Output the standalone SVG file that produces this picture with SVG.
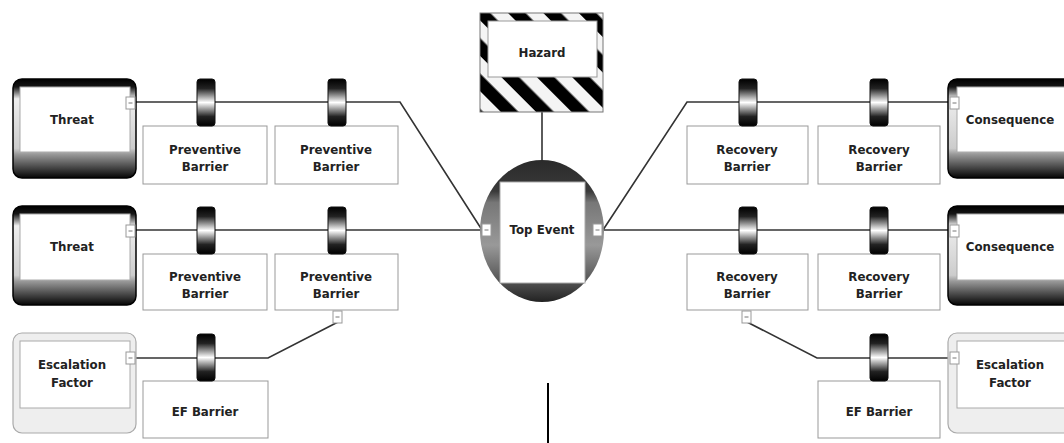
<svg xmlns="http://www.w3.org/2000/svg" width="1064" height="443" viewBox="0 0 1064 443">
<defs>
<linearGradient id="gThreat" x1="0" y1="0" x2="0" y2="1">
<stop offset="0" stop-color="#000"/><stop offset="0.08" stop-color="#151515"/><stop offset="0.2" stop-color="#eee"/><stop offset="0.7" stop-color="#ccc"/><stop offset="0.76" stop-color="#999"/><stop offset="1" stop-color="#050505"/>
</linearGradient>
<linearGradient id="gClamp" x1="0" y1="0" x2="0" y2="1">
<stop offset="0" stop-color="#000"/><stop offset="0.2" stop-color="#222"/><stop offset="0.5" stop-color="#fff"/><stop offset="0.8" stop-color="#222"/><stop offset="1" stop-color="#000"/>
</linearGradient>
<linearGradient id="gTop" x1="0" y1="0" x2="0" y2="1">
<stop offset="0" stop-color="#2a2a2a"/><stop offset="0.22" stop-color="#3a3a3a"/><stop offset="0.3" stop-color="#777"/><stop offset="0.6" stop-color="#999"/><stop offset="0.85" stop-color="#555"/><stop offset="1" stop-color="#222"/>
</linearGradient>
<pattern id="stripes" width="25" height="25" patternUnits="userSpaceOnUse" patternTransform="rotate(-45)">
<rect width="25" height="25" fill="#f4f4f4"/><rect width="12.5" height="25" fill="#000"/>
</pattern>
<g id="port"><rect x="0" y="0" width="9" height="12" fill="#fff" stroke="#999" stroke-width="1"/><line x1="2.5" y1="6" x2="6.5" y2="6" stroke="#777" stroke-width="1"/></g>
<rect id="clamp" x="0" y="0" width="18" height="47" rx="3" fill="url(#gClamp)" stroke="#111" stroke-width="1"/>
</defs>
<style>
.t{font-family:"DejaVu Sans",Verdana,sans-serif;font-weight:bold;font-size:11.8px;fill:#222;text-anchor:middle}
.box{fill:#fff;stroke:#999;stroke-width:1}
.ln{fill:none;stroke:#333;stroke-width:1.6}
.thr{fill:url(#gThreat);stroke:#000;stroke-width:1.5}
.inner{fill:#fff;stroke:#aaa;stroke-width:1}
.esc{fill:#eee;stroke:#aaa;stroke-width:1.2}
</style>
<rect width="1064" height="443" fill="#fff"/>

<g id="connectors">
<polyline class="ln" points="136,102 400,102 482,230"/>
<line class="ln" x1="136" y1="230" x2="482" y2="230"/>
<polyline class="ln" points="136,358 268,358 338,322"/>
<polyline class="ln" points="603,230 687,102 950,102"/>
<line class="ln" x1="603" y1="230" x2="950" y2="230"/>
<polyline class="ln" points="747,322 817,358 950,358"/>
<line class="ln" x1="542" y1="112" x2="542" y2="162"/>
<line x1="548" y1="383" x2="548" y2="443" stroke="#000" stroke-width="2"/>
</g>

<g id="hazard">
<rect x="480" y="13" width="123" height="99" fill="url(#stripes)" stroke="#777" stroke-width="1"/>
<rect x="488" y="21" width="109" height="56" fill="#fff" stroke="#999" stroke-width="1"/>
<text class="t" x="542" y="57">Hazard</text>
</g>

<g id="top-event">
<ellipse cx="542" cy="231" rx="62" ry="71" fill="url(#gTop)"/>
<rect x="500" y="182" width="85" height="101" fill="#fff" stroke="#aaa" stroke-width="1"/>
<text class="t" x="542" y="234">Top Event</text>
<use href="#port" x="482" y="224"/>
<use href="#port" x="593" y="224"/>
</g>

<g id="threat-1">
<rect class="thr" x="13" y="79" width="123" height="99" rx="9"/>
<rect class="inner" x="20" y="87" width="110" height="65"/>
<text class="t" x="72" y="124">Threat</text>
<use href="#port" x="126" y="97"/>
</g>
<g id="threat-2">
<rect class="thr" x="13" y="206" width="123" height="99" rx="9"/>
<rect class="inner" x="20" y="214" width="110" height="66"/>
<text class="t" x="72" y="251">Threat</text>
<use href="#port" x="126" y="225"/>
</g>

<g id="pb-1-1">
<rect class="box" x="143" y="126" width="124" height="58"/>
<text class="t" x="205" y="154">Preventive</text><text class="t" x="205" y="171">Barrier</text>
<use href="#clamp" x="197" y="79"/>
</g>
<g id="pb-1-2">
<rect class="box" x="275" y="126" width="123" height="58"/>
<text class="t" x="336" y="154">Preventive</text><text class="t" x="336" y="171">Barrier</text>
<use href="#clamp" x="328" y="79"/>
</g>
<g id="pb-2-1">
<rect class="box" x="143" y="254" width="124" height="56"/>
<text class="t" x="205" y="281">Preventive</text><text class="t" x="205" y="298">Barrier</text>
<use href="#clamp" x="197" y="207"/>
</g>
<g id="pb-2-2">
<rect class="box" x="275" y="254" width="123" height="56"/>
<text class="t" x="336" y="281">Preventive</text><text class="t" x="336" y="298">Barrier</text>
<use href="#clamp" x="328" y="207"/>
<use href="#port" x="333" y="311"/>
</g>

<g id="escalation-left">
<rect class="esc" x="13" y="333" width="123" height="100" rx="9"/>
<rect class="inner" x="20" y="341" width="110" height="67" stroke="#999"/>
<text class="t" x="72" y="369">Escalation</text><text class="t" x="72" y="387">Factor</text>
<use href="#port" x="126" y="352"/>
</g>
<g id="ef-barrier-left">
<rect class="box" x="143" y="381" width="125" height="57"/>
<text class="t" x="205" y="416">EF Barrier</text>
<use href="#clamp" x="197" y="334"/>
</g>

<g id="rb-1-1">
<rect class="box" x="687" y="126" width="121" height="58"/>
<text class="t" x="747" y="154">Recovery</text><text class="t" x="747" y="171">Barrier</text>
<use href="#clamp" x="739" y="79"/>
</g>
<g id="rb-1-2">
<rect class="box" x="818" y="126" width="122" height="58"/>
<text class="t" x="879" y="154">Recovery</text><text class="t" x="879" y="171">Barrier</text>
<use href="#clamp" x="870" y="79"/>
</g>
<g id="rb-2-1">
<rect class="box" x="687" y="254" width="121" height="56"/>
<text class="t" x="747" y="281">Recovery</text><text class="t" x="747" y="298">Barrier</text>
<use href="#clamp" x="739" y="207"/>
<use href="#port" x="742" y="311"/>
</g>
<g id="rb-2-2">
<rect class="box" x="818" y="254" width="122" height="56"/>
<text class="t" x="879" y="281">Recovery</text><text class="t" x="879" y="298">Barrier</text>
<use href="#clamp" x="870" y="207"/>
</g>

<g id="consequence-1">
<rect class="thr" x="948" y="79" width="130" height="99" rx="9"/>
<rect class="inner" x="957" y="87" width="120" height="65"/>
<text class="t" x="1010" y="124">Consequence</text>
<use href="#port" x="950" y="97"/>
</g>
<g id="consequence-2">
<rect class="thr" x="948" y="206" width="130" height="99" rx="9"/>
<rect class="inner" x="957" y="214" width="120" height="66"/>
<text class="t" x="1010" y="251">Consequence</text>
<use href="#port" x="950" y="225"/>
</g>

<g id="ef-barrier-right">
<rect class="box" x="818" y="381" width="122" height="57"/>
<text class="t" x="879" y="416">EF Barrier</text>
<use href="#clamp" x="870" y="334"/>
</g>
<g id="escalation-right">
<rect class="esc" x="948" y="333" width="130" height="100" rx="9"/>
<rect class="inner" x="957" y="341" width="120" height="67" stroke="#999"/>
<text class="t" x="1010" y="369">Escalation</text><text class="t" x="1010" y="387">Factor</text>
<use href="#port" x="950" y="352"/>
</g>
</svg>
